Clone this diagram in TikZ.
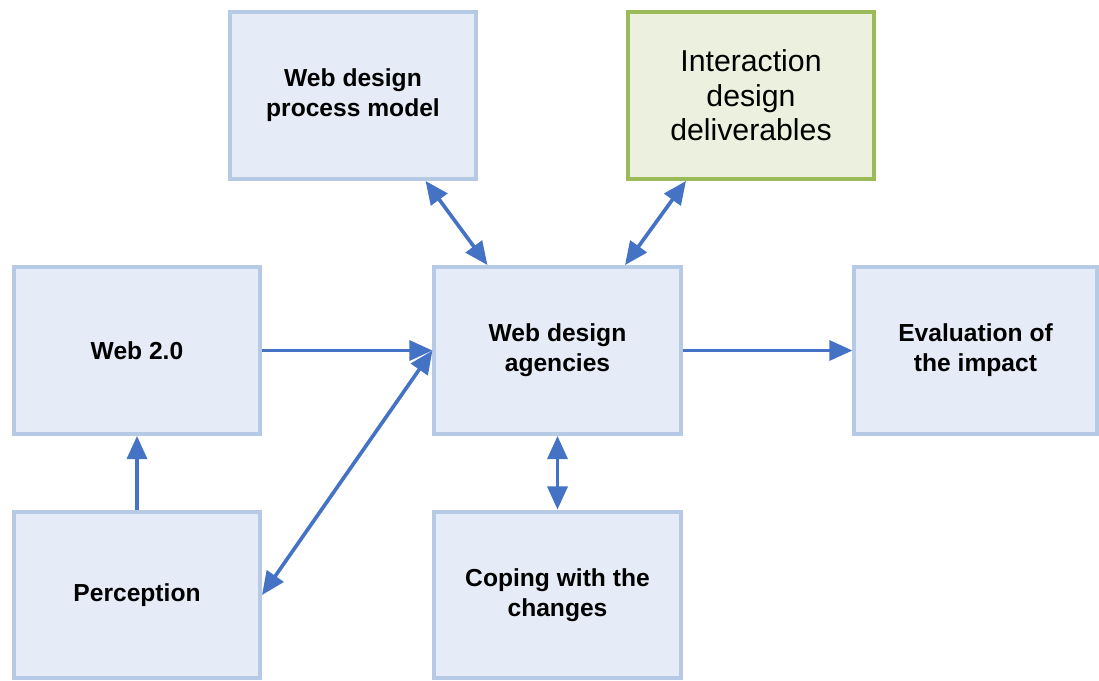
\documentclass[tikz,border=0pt]{standalone}
\usepackage{fontspec}
\setmainfont{Liberation Sans}
\usetikzlibrary{arrows.meta, calc}

\definecolor{boxfill}{HTML}{E6ECF7}
\definecolor{boxline}{HTML}{B7CAE5}
\definecolor{greenfill}{HTML}{EBF1DE}
\definecolor{greenline}{HTML}{9BBB59}
\definecolor{arrowblue}{HTML}{4472C4}

\begin{document}
\begin{tikzpicture}[x=0.025cm, y=-0.025cm,
    box/.style={draw=boxline, fill=boxfill, line width=2.85pt,
        minimum width=6.15cm, minimum height=4.17cm, align=center,
        font=\fontsize{17.5}{21.3}\selectfont\bfseries},
    greenbox/.style={box, draw=greenline, fill=greenfill,
        font=\fontsize{21.5}{24.5}\selectfont},
    link/.style={draw=arrowblue, line width=2.6pt,
        -{Triangle[length=0.58cm, width=0.5cm]}},
    dlink/.style={link, {Triangle[length=0.58cm, width=0.5cm]}-{Triangle[length=0.58cm, width=0.5cm]}}]

    \useasboundingbox (0,0) rectangle (1099,680);

    % ==========================================
    % 1. Boxes
    % ==========================================
    \node[box] (pm) at (353,95.5) {Web design\\process model};
    \node[greenbox] (id) at (751,95.5) {Interaction\\design\\deliverables};

    \node[box] (w2) at (137,350.5) {Web 2.0};
    \node[box] (ag) at (557.5,350.5) {Web design\\agencies};
    \node[box, minimum width=6.05cm] (ev) at (975.5,350.5) {Evaluation of\\the impact};

    \node[box] (pe) at (137,595) {Perception};
    \node[box] (cp) at (557.5,595) {Coping with the\\changes};

    % ==========================================
    % 2. Attachment points on the box borders
    % ==========================================
    \coordinate (pmS) at ($(pm.south west)!0.79!(pm.south east)$);
    \coordinate (idS) at ($(id.south west)!0.24!(id.south east)$);
    \coordinate (agN1) at ($(ag.north west)!0.22!(ag.north east)$);
    \coordinate (agN2) at ($(ag.north west)!0.77!(ag.north east)$);

    % ==========================================
    % 3. Connectors
    % ==========================================
    \draw[dlink] (pmS) -- (agN1);
    \draw[dlink] (idS) -- (agN2);
    \draw[link] (w2.east) -- (ag.west);
    \draw[dlink] (pe.east) -- (ag.west);
    \draw[link] (ag.east) -- (ev.west);
    \draw[link] (pe.north) -- (w2.south);
    \draw[dlink] (ag.south) -- (cp.north);

\end{tikzpicture}
\end{document}
